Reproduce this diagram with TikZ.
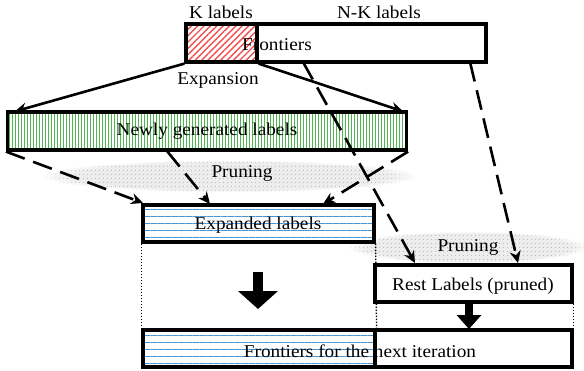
\documentclass[tikz,border=0pt]{standalone}
\usepackage{fontspec}
\setmainfont[FakeStretch=1.07]{Liberation Serif}
\usetikzlibrary{patterns.meta,arrows.meta,fadings}

\definecolor{stripegreen}{RGB}{80,180,80}
\definecolor{stripeblue}{RGB}{70,150,215}
\definecolor{hatchred}{RGB}{240,80,80}

\tikzset{
  box/.style={draw=black, line width=3.2pt, rectangle, inner sep=0pt},
  txt/.style={font=\fontsize{18}{20}\selectfont, inner sep=0pt},
  solidarrow/.style={line width=2.6pt, -{Stealth[length=12pt,width=11pt]}},
  dasharrow/.style={line width=2.6pt, dash pattern=on 20pt off 9pt, -{Stealth[length=12pt,width=11pt]}},
  guide/.style={line width=1.4pt, dash pattern=on 1.4pt off 1.6pt},
  cloud/.style={pattern={Dots[distance=4pt,radius=0.5pt]}, pattern color=gray!80},
  bluelines/.style={preaction={fill=white},
      preaction={pattern={Lines[angle=0,distance=7pt,line width=0.8pt]}, pattern color=stripeblue}},
}

\begin{document}
\begin{tikzpicture}[x=1pt,y=-1pt]
\useasboundingbox (0,0) rectangle (584,370);

% pruning haze bands
\fill[gray!14, path fading=circle with fuzzy edge 15 percent] (229,176) ellipse [x radius=188, y radius=16];
\fill[cloud, path fading=circle with fuzzy edge 15 percent] (229,176) ellipse [x radius=188, y radius=16];
\fill[gray!14, path fading=circle with fuzzy edge 15 percent] (468,247) ellipse [x radius=120, y radius=16];
\fill[cloud, path fading=circle with fuzzy edge 15 percent] (468,247) ellipse [x radius=120, y radius=16];

% frontier buffer
\node[box, fill=white, minimum width=300pt, minimum height=38pt] (front) at (336,43) {};
\node[box, preaction={fill=white},
      preaction={pattern={Lines[angle=45,distance=4.5pt,line width=1.4pt]}, pattern color=hatchred},
      minimum width=71pt, minimum height=38pt] (kpart) at (221.5,43) {};
\node[txt] (klab) at (221,12) {K labels};
\node[txt] (nklab) at (379,12) {N-K labels};
\node[txt] (frtxt) at (277,45) {Frontiers};

% newly generated labels
\node[box, preaction={fill=white},
      preaction={pattern={Lines[angle=90,distance=3pt,line width=0.6pt]}, pattern color=stripegreen},
      minimum width=399pt, minimum height=38pt] (newly) at (207,131) {};
\node[txt] (newtxt) at (207,131) {Newly generated labels};

\node[txt] (exptxt) at (218,80) {Expansion};
\node[txt] (pr1) at (242,173) {Pruning};
\node[txt] (pr2) at (468,247) {Pruning};

% expanded labels
\node[box, bluelines, minimum width=231pt, minimum height=37pt] (expd) at (258.5,223.5) {};
\node[txt] (expdtxt) at (258,225) {Expanded labels};

% rest labels
\node[box, fill=white, minimum width=197pt, minimum height=37pt] (rest) at (473.5,283.5) {};
\node[txt] (resttxt) at (473,286) {Rest Labels (pruned)};

% next frontiers
\node[box, bluelines, minimum width=232pt, minimum height=37pt] (nextL) at (259,348.5) {};
\node[box, minimum width=197pt, minimum height=37pt] (nextR) at (473.5,348.5) {};
\node[txt] (nexttxt) at (360,351) {Frontiers for the next iteration};

% expansion arrows
\draw[solidarrow] (kpart.south west) -- ([xshift=9pt,yshift=-1pt]newly.north west);
\draw[solidarrow] (kpart.south east) -- ([xshift=-5pt,yshift=-1pt]newly.north east);

% pruning arrows
\coordinate (nmid) at (167,151);
\coordinate (f1) at (303,62);
\coordinate (f2) at (470,62);
\draw[dasharrow] (newly.south west) -- (143,203);
\draw[dasharrow] (nmid) -- (210,204);
\draw[dasharrow] (newly.south east) -- (323,204);
\draw[dasharrow] (f1) -- (415,263);
\draw[dasharrow] (f2) -- (518,263);

% guides
\draw[guide] (expd.south west) -- (nextL.north west);
\draw[guide] (expd.south east) -- (nextL.north east);
\draw[guide] (rest.south east) -- (nextR.north east);

% big arrows
\coordinate (a1s) at (258,272);
\coordinate (a1e) at (258,309);
\draw[line width=10pt, -{Triangle[length=18pt,width=39pt]}] (a1s) -- (a1e);
\coordinate (a2s) at (469,302);
\coordinate (a2e) at (469,329);
\draw[line width=8pt, -{Triangle[length=14pt,width=24pt]}] (a2s) -- (a2e);
\end{tikzpicture}
\end{document}
